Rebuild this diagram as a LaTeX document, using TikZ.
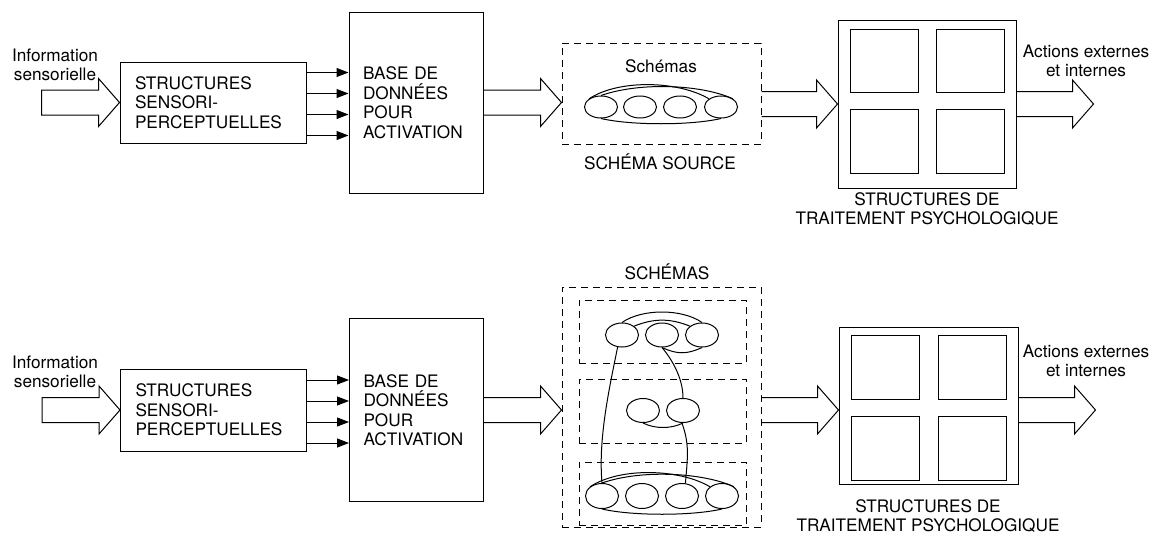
\documentclass[tikz,border=0pt]{standalone}
\usepackage{fontspec}
\setmainfont{TeX Gyre Heros}
\usetikzlibrary{calc,shapes.geometric,arrows.meta}

%hollow arrow: [extra path] {tail} {tip}
\newcommand{\fatarrow}[3][]{%
	\draw ($(#2)+(0,-12.5)$) -- ($(#3)+(-21,-12.5)$) -- ($(#3)+(-21,-24)$) -- (#3)
	-- ($(#3)+(-21,24)$) -- ($(#3)+(-21,12.5)$) -- ($(#2)+(0,12.5)$) #1;}

\begin{document}
\begin{tikzpicture}[x=1pt,y=-1pt,line width=1pt,
	every node/.style={font=\fontsize{17.2pt}{19.5pt}\selectfont},
	ssbox/.style={draw,inner xsep=15pt,text width=156pt,minimum height=81pt,align=left},
	dbbox/.style={draw,inner xsep=14pt,text width=106pt,align=left},
	dashbox/.style={draw,dash pattern=on 7pt off 5pt,inner sep=0pt},
	oval/.style={draw,ellipse,inner sep=0pt,minimum width=33pt,minimum height=24pt},
	sq/.style={draw,inner sep=0pt,minimum width=68pt,minimum height=64pt},
	feed/.style={-{Triangle[length=12pt,width=9pt]}},
	lbl/.style={align=center}]
	\useasboundingbox (0,0) rectangle (1154,538);
	
	%%% upper row
	%boxes
	\node[ssbox] (ssp1) at (213,102.5) {STRUCTURES\\SENSORI-\\PERCEPTUELLES};
	\node[dbbox,minimum height=181pt] (base1) at (416,102.5) {BASE DE\\DONNÉES\\POUR\\ACTIVATION};
	\node[dashbox,minimum width=199pt,minimum height=101pt] (src1) at (661.5,93.5) {};
	\node[draw,inner sep=0pt,minimum width=178pt,minimum height=168pt] (psy1) at (927,104) {};
	\node[sq,minimum height=63pt] (q1a) at (884,60.5) {};
	\node[sq,minimum height=63pt] (q1b) at (970.5,60.5) {};
	\node[sq] (q1c) at (884,141) {};
	\node[sq] (q1d) at (970.5,141) {};
	
	%schemas
	\foreach \i/\x in {1/601,2/640,3/680,4/721}
		\node[oval,minimum height=22pt] (s\i) at (\x,107) {};
	
	%labels
	\node[lbl] (inl1) at (55,65) {Information\\sensorielle};
	\node (schl1) at (661,66) {Schémas};
	\node (srcl1) at (660,162) {SCHÉMA SOURCE};
	\node[lbl] (psyl1) at (927,209) {STRUCTURES DE\\TRAITEMENT PSYCHOLOGIQUE};
	\node[lbl] (outl1) at (1086,61) {Actions externes\\et internes};
	
	%arrows
	\foreach \dy in {-30,-9,12,33}
		\draw[feed] ($(ssp1.east)+(0,\dy)$) -- ($(base1.west)+(0,\dy)$);
	\coordinate (in1) at ($(ssp1.west)+(-78,0)$);
	\coordinate (a1) at (src1.west |- base1.east);
	\coordinate (b1) at (src1.east |- psy1.west);
	\coordinate (out1) at ($(psy1.east)+(77,0)$);
	\fatarrow[-- cycle]{in1}{ssp1.west}
	\fatarrow{base1.east}{a1}
	\fatarrow{b1}{psy1.west}
	\fatarrow{psy1.east}{out1}
	
	%%% lower row
	%boxes
	\node[ssbox,minimum height=82pt] (ssp2) at (213.5,410) {STRUCTURES\\SENSORI-\\PERCEPTUELLES};
	\node[dbbox,minimum height=183pt] (base2) at (416.5,410) {BASE DE\\DONNÉES\\POUR\\ACTIVATION};
	\node[dashbox,minimum width=199pt,minimum height=240pt] (sch2) at (661.5,407) {};
	\node[dashbox,minimum width=167pt,minimum height=63pt] (sch2a) at (662.5,331.5) {};
	\node[dashbox,minimum width=167pt,minimum height=64pt] (sch2b) at (662.5,411) {};
	\node[dashbox,minimum width=167pt,minimum height=63pt] (sch2c) at (662.5,493.5) {};
	\node[draw,inner sep=0pt,minimum width=179pt,minimum height=157pt] (psy2) at (928.5,405.5) {};
	\node[sq] (q2a) at (885,367) {};
	\node[sq] (q2b) at (972,367) {};
	\node[sq] (q2c) at (885,448) {};
	\node[sq] (q2d) at (972,448) {};
	
	%schemas
	\foreach \i/\x in {1/622,2/662,3/702}
		\node[oval] (u\i) at (\x,335) {};
	\foreach \i/\x in {1/643,2/683}
		\node[oval] (m\i) at (\x,410.5) {};
	\foreach \i/\x in {1/602,2/642,3/682,4/722}
		\node[oval,minimum height=25pt] (l\i) at (\x,496) {};
	
	%links between schemas
	\foreach \r in {s,l}{
		\draw (\r1.north west) .. controls +(30,-20) and +(-30,-18) .. (\r4.north west);
		\draw (\r1.north) .. controls +(40,-14) and +(-30,-14) .. (\r4.north east);
		\draw (\r1.south) .. controls +(30,7) and +(-30,7) .. (\r4.south);
	}
	\draw (u1.north) .. controls +(20,-14) and +(-20,-14) .. (u3.north);
	\draw (u1.north east) .. controls +(20,-8) and +(-20,-8) .. (u3.north west);
	\draw (u2.south) .. controls +(15,7) and +(-15,7) .. (u3.south);
	\draw (m1.south) .. controls +(12,6) and +(-12,6) .. (m2.south);
	\draw (u1.250) .. controls +(-8,40) and +(-4,-45) .. (l1.north);
	\draw (u2.south) .. controls +(10,12) and +(0,-20) .. (m2.north);
	\draw (m2.265) .. controls +(8,22) and +(2,-25) .. (l3.75);
	
	%labels
	\node[lbl] (inl2) at (55,372) {Information\\sensorielle};
	\node (schl2) at (667,272) {SCHÉMAS};
	\node[lbl] (psyl2) at (928,516) {STRUCTURES DE\\TRAITEMENT PSYCHOLOGIQUE};
	\node[lbl] (outl2) at (1086,361) {Actions externes\\et internes};
	
	%arrows
	\foreach \dy in {-30,-9,12,33}
		\draw[feed] ($(ssp2.east)+(0,\dy)$) -- ($(base2.west)+(0,\dy)$);
	\coordinate (in2) at ($(ssp2.west)+(-78,0)$);
	\coordinate (a2) at (sch2.west |- base2.east);
	\coordinate (b2) at (sch2.east |- base2.east);
	\coordinate (c2) at (psy2.west |- base2.east);
	\coordinate (d2) at (psy2.east |- base2.east);
	\coordinate (out2) at ($(d2)+(77,0)$);
	\fatarrow[-- cycle]{in2}{ssp2.west}
	\fatarrow{base2.east}{a2}
	\fatarrow{b2}{c2}
	\fatarrow{d2}{out2}
\end{tikzpicture}
\end{document}
